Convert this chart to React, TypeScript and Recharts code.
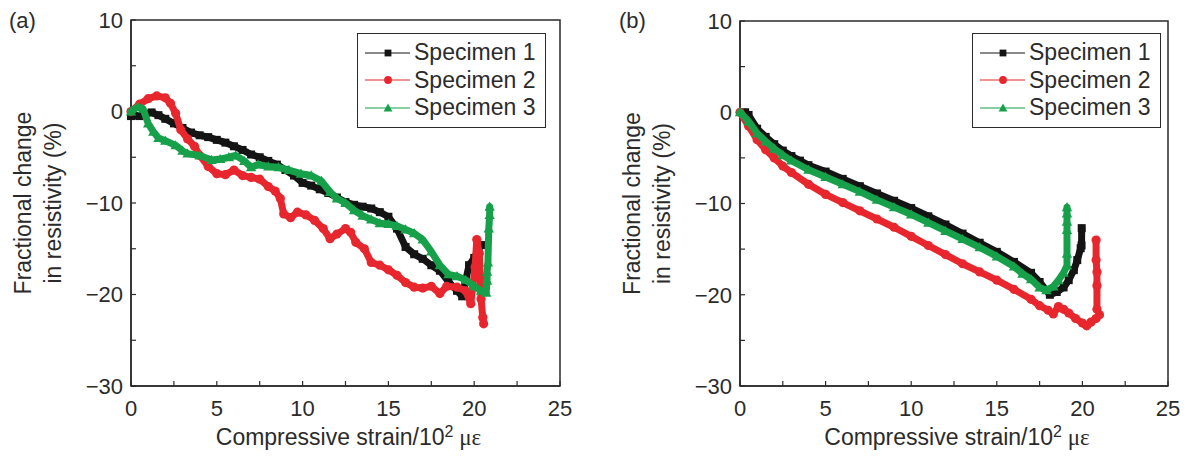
import React from "react";
import {
  ScatterChart,
  Scatter,
  XAxis,
  YAxis,
  Legend,
  ReferenceArea,
} from "recharts";

type Pt = [number, number];

const FONT = "Arial, 'Liberation Sans', Helvetica, sans-serif";
const INK = "#2b2b2b";
const BLACK = "#141414";
const RED = "#e8262d";
const GREEN = "#17a04a";

const specimenNames = ["Specimen 1", "Specimen 2", "Specimen 3"];
const xTicks = [0, 2.5, 5, 7.5, 10, 12.5, 15, 17.5, 20, 22.5, 25];
const yTicks = [-30, -25, -20, -15, -10, -5, 0, 5, 10];

// (a) strain (10^2 με), fractional change (%)
const aSpecimen1: Pt[] = [
  [0, -0.5], [0.5, -0.5], [0.8, -0.3], [1.2, -0.1], [1.6, -0.4], [2, -0.8],
  [2.5, -1.3], [3, -1.8], [3.5, -2.3], [4, -2.6], [4.5, -2.8], [5, -3.1],
  [5.5, -3.4], [6, -3.8], [6.5, -4.2], [7, -4.7], [7.5, -5.0], [8, -5.4],
  [8.5, -5.8], [9, -6.4], [9.5, -7.0], [10, -7.8], [10.5, -8.1], [11, -8.5],
  [11.5, -8.9], [12, -9.4], [12.5, -9.9], [13, -10.2], [13.5, -10.4],
  [14, -10.6], [14.5, -11.0], [15, -11.5], [15.5, -12.8], [16, -14.8],
  [16.5, -15.6], [17, -16.1], [17.5, -16.8], [18, -17.4], [18.5, -18.6],
  [19, -19.6], [19.3, -20.2], [19.5, -18.5], [19.7, -16.8], [20, -16.0],
  [20.2, -15.3], [20.4, -14.6],
];
const aSpecimen2: Pt[] = [
  [0, 0], [0.5, 0.8], [1, 1.4], [1.5, 1.7], [2, 1.5], [2.3, 0.9], [2.6, -0.2],
  [2.9, -2.0], [3.3, -3.0], [3.7, -3.8], [4, -4.8], [4.5, -6.0], [5, -6.8],
  [5.5, -6.9], [6, -6.4], [6.5, -7.0], [7, -7.2], [7.5, -7.4], [8, -8.2],
  [8.4, -8.7], [8.7, -9.5], [8.9, -11.2], [9.3, -11.6], [9.7, -11.0],
  [10.2, -11.3], [10.7, -11.9], [11.2, -12.8], [11.6, -13.9], [12, -13.4],
  [12.5, -12.8], [12.8, -13.2], [13.1, -14.3], [13.6, -15.0], [14, -16.5],
  [14.5, -16.8], [15, -17.3], [15.5, -17.9], [16, -18.7], [16.5, -19.2],
  [17, -19.3], [17.5, -19.1], [18, -19.9], [18.4, -19.1], [19, -19.2],
  [19.5, -19.6], [19.8, -21.0], [20.05, -17.0], [20.15, -14.0], [20.3, -15.5],
  [20.35, -18.0], [20.4, -20.5], [20.5, -22.5], [20.55, -23.2],
];
const aSpecimen3: Pt[] = [
  [0, 0], [0.4, 0.5], [0.7, 0.3], [1, -1.3], [1.3, -2.2], [1.6, -2.9],
  [2, -3.2], [2.6, -3.7], [3, -4.3], [3.3, -4.6], [4, -4.8], [4.7, -5.3],
  [5.2, -5.2], [5.7, -5.0], [6.1, -4.8], [6.6, -5.4], [7, -6.1], [7.4, -5.8],
  [8, -6.0], [8.6, -6.1], [9.2, -6.4], [9.9, -6.8], [10.5, -7.0], [11.1, -7.6],
  [11.6, -8.8], [12, -9.5], [12.5, -10.0], [13, -10.8], [13.5, -11.4],
  [14, -11.8], [14.5, -12.2], [15, -12.3], [15.5, -12.5], [16, -12.9],
  [16.5, -13.3], [17, -14.0], [17.5, -15.3], [18, -16.8], [18.5, -17.8],
  [19, -18.0], [19.5, -18.4], [20, -19.1], [20.4, -19.6], [20.7, -19.8],
  [20.75, -18.5], [20.75, -17.5], [20.8, -16.5], [20.85, -12.8], [20.9, -11.3],
  [20.9, -10.4],
];

// (b)
const bSpecimen1: Pt[] = [
  [0.3, 0], [0.5, -0.3], [1, -1.8], [1.5, -2.7], [2, -3.5], [2.5, -4.2],
  [3, -4.8], [3.5, -5.3], [4, -5.8], [5, -6.5], [6, -7.3], [7, -8.1],
  [8, -8.9], [9, -9.7], [10, -10.5], [11, -11.4], [12, -12.3], [13, -13.3],
  [14, -14.3], [15, -15.3], [16, -16.4], [17, -17.6], [17.5, -18.6],
  [18.1, -20.0], [18.5, -19.7], [18.9, -19.2], [19.2, -18.4], [19.5, -17.3],
  [19.7, -16.2], [19.9, -14.9], [19.95, -14.6], [19.96, -12.7],
];
const bSpecimen2: Pt[] = [
  [0, 0], [0.5, -1.5], [1, -3.0], [1.5, -4.1], [2, -5.0], [2.5, -5.9],
  [3, -6.6], [4, -7.9], [5, -9.0], [6, -9.9], [7, -10.8], [8, -11.7],
  [9, -12.6], [10, -13.6], [11, -14.6], [12, -15.6], [13, -16.6], [14, -17.5],
  [15, -18.4], [16, -19.4], [17, -20.5], [17.5, -21.2], [18, -21.7],
  [18.3, -22.1], [18.6, -21.3], [18.9, -21.6], [19.2, -22.0], [19.6, -22.6],
  [20, -23.1], [20.25, -23.4], [20.5, -23.0], [20.8, -22.6], [21.0, -22.2],
  [20.85, -21.6], [20.85, -19.0], [20.85, -17.5], [20.8, -16.2], [20.8, -14.0],
];
const bSpecimen3: Pt[] = [
  [0, 0], [0.5, -1.0], [1, -2.3], [1.5, -3.2], [2, -4.0], [2.5, -4.7],
  [3, -5.3], [4, -6.3], [5, -7.1], [6, -7.9], [7, -8.7], [8, -9.6],
  [9, -10.4], [10, -11.2], [11, -12.1], [12, -13.0], [13, -13.9], [14, -14.8],
  [15, -15.8], [16, -16.9], [16.5, -17.7], [17, -18.3], [17.5, -19.2],
  [17.9, -19.5], [18.3, -19.1], [18.6, -18.4], [18.9, -17.6], [19.1, -16.8],
  [19.1, -15.5], [19.1, -12.9], [19.1, -12.0], [19.1, -11.1], [19.1, -10.4],
];

const rows = (pts: Pt[]) => pts.map(([x, y]) => ({ x, y }));
const colors = [BLACK, RED, GREEN];

function Marker({ kind, cx, cy, s = 1 }: { kind: number; cx: number; cy: number; s?: number }) {
  if (kind === 0)
    return <rect x={cx - 4 * s} y={cy - 4 * s} width={8 * s} height={8 * s} fill={BLACK} />;
  if (kind === 1) return <circle cx={cx} cy={cy} r={4.6 * s} fill={RED} />;
  return (
    <polygon
      points={`${cx},${cy - 5.2 * s} ${cx + 5.2 * s},${cy + 4 * s} ${cx - 5.2 * s},${cy + 4 * s}`}
      fill={GREEN}
    />
  );
}

const shapeFor = (kind: number) => (p: any) => {
  const cx = p.cx ?? p.x + (p.width || 0) / 2;
  const cy = p.cy ?? p.y + (p.height || 0) / 2;
  return <Marker kind={kind} cx={cx} cy={cy} />;
};

function LegendBox() {
  return (
    <div
      style={{
        width: "100%",
        height: "100%",
        boxSizing: "border-box",
        border: `1.5px solid ${INK}`,
        background: "#fff",
        paddingTop: 5,
        fontFamily: FONT,
        fontSize: 23,
        color: INK,
      }}
    >
      {specimenNames.map((name, i) => (
        <div key={name} style={{ display: "flex", alignItems: "center", height: 27.5 }}>
          <svg width={56} height={20} style={{ flex: "none" }}>
            <line x1={7} x2={52} y1={10} y2={10} stroke={colors[i]} strokeWidth={1.2} />
            <Marker kind={i} cx={30} cy={10} s={0.85} />
          </svg>
          <span style={{ lineHeight: "27px", whiteSpace: "nowrap" }}>{name}</span>
        </div>
      ))}
    </div>
  );
}

const fmtX = (v: number) => (v % 5 === 0 ? String(v) : "");
const fmtY = (v: number) =>
  v % 10 === 0 ? (v < 0 ? "\u2212" + Math.abs(v) : String(v)) : "";

type PanelProps = {
  tag: string;
  data: Pt[][];
  width: number;
  margin: { top: number; right: number; bottom: number; left: number };
  legendLeft: number;
};

function Panel({ tag, data, width, margin, legendLeft }: PanelProps) {
  const plotLeft = margin.left + 60;
  const plotRight = width - margin.right;
  const midX = (plotLeft + plotRight) / 2 + 3;
  const midY = (margin.top + 386) / 2;
  const yTitle = () => (
    <g fill={INK} fontFamily={FONT} fontSize={23}>
      <text
        x={plotLeft - 106}
        y={midY}
        textAnchor="middle"
        dominantBaseline="middle"
        transform={`rotate(-90 ${plotLeft - 106} ${midY})`}
      >
        Fractional change
      </text>
      <text
        x={plotLeft - 76}
        y={midY}
        textAnchor="middle"
        dominantBaseline="middle"
        transform={`rotate(-90 ${plotLeft - 76} ${midY})`}
      >
        in resistivity (%)
      </text>
    </g>
  );
  const xTitle = () => (
    <text x={midX} y={445} textAnchor="middle" fill={INK} fontFamily={FONT} fontSize={23}>
      Compressive strain/10
      <tspan dy={-8} fontSize={16}>2</tspan>
      <tspan dy={8} fontFamily="'Liberation Serif', 'DejaVu Serif', serif" fontSize={23}>
        {" \u03bc\u03b5"}
      </tspan>
    </text>
  );
  return (
    <div style={{ position: "relative", width, height: 462 }}>
      <div
        style={{
          position: "absolute",
          left: tag === "(a)" ? 9 : 19,
          top: 8,
          fontFamily: FONT,
          fontSize: 22,
          color: INK,
        }}
      >
        {tag}
      </div>
      <ScatterChart width={width} height={462} margin={margin}>
        <XAxis
          type="number"
          dataKey="x"
          domain={[0, 25]}
          ticks={xTicks}
          interval={0}
          tickFormatter={fmtX}
          tickSize={-5}
          tickMargin={19}
          height={30}
          axisLine={{ stroke: INK, strokeWidth: 1.5 }}
          tickLine={{ stroke: INK, strokeWidth: 1.2 }}
          tick={{ fill: INK, fontSize: 22, fontFamily: FONT }}
          label={{ content: xTitle }}
        />
        <YAxis
          type="number"
          dataKey="y"
          domain={[-30, 10]}
          ticks={yTicks}
          interval={0}
          tickFormatter={fmtY}
          tickSize={-5}
          tickMargin={13}
          width={60}
          axisLine={{ stroke: INK, strokeWidth: 1.5 }}
          tickLine={{ stroke: INK, strokeWidth: 1.2 }}
          tick={{ fill: INK, fontSize: 22, fontFamily: FONT }}
          label={{ content: yTitle }}
        />
        <ReferenceArea
          x1={0}
          x2={25}
          y1={-30}
          y2={10}
          fill="none"
          stroke={INK}
          strokeWidth={1.5}
        />
        {data.map((pts, i) => (
          <Scatter
            key={specimenNames[i]}
            name={specimenNames[i]}
            data={rows(pts)}
            fill={colors[i]}
            line={{
              stroke: colors[i],
              strokeWidth: 7,
              strokeLinejoin: "round",
              strokeLinecap: "round",
            }}
            shape={shapeFor(i)}
            isAnimationActive={false}
          />
        ))}
        <Legend
          layout="vertical"
          align="center"
          verticalAlign="middle"
          content={() => <LegendBox />}
          wrapperStyle={{ left: legendLeft, top: 33, width: 189, height: 95 }}
        />
      </ScatterChart>
    </div>
  );
}

export default function App() {
  return (
    <div
      style={{
        position: "absolute",
        left: 0,
        top: 0,
        width: 1189,
        height: 462,
        background: "#fff",
        display: "flex",
      }}
    >
      <Panel
        tag="(a)"
        data={[aSpecimen1, aSpecimen2, aSpecimen3]}
        width={600}
        margin={{ top: 20, right: 40, bottom: 46, left: 71 }}
        legendLeft={357}
      />
      <Panel
        tag="(b)"
        data={[bSpecimen1, bSpecimen2, bSpecimen3]}
        width={589}
        margin={{ top: 21, right: 21, bottom: 46, left: 80 }}
        legendLeft={372}
      />
    </div>
  );
}
